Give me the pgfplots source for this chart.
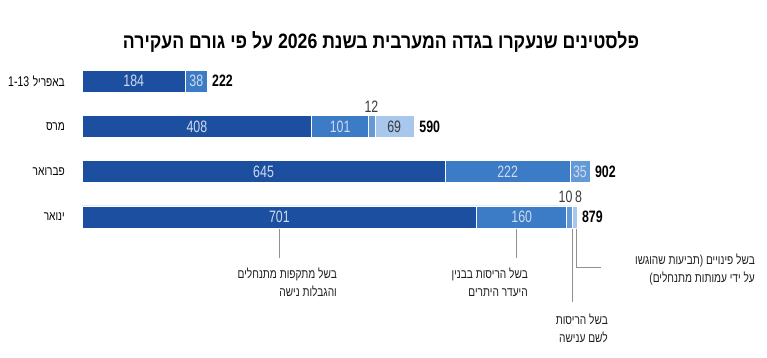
\documentclass[border=0pt]{standalone}
\usepackage{pgfplots}
\pgfplotsset{compat=1.18}
\usepackage{fontspec}
\setmainfont{Liberation Sans}
\newfontfamily\heb[Script=Hebrew,FakeStretch=0.78]{Liberation Sans}
\newfontfamily\hebt[Script=Hebrew,FakeStretch=0.85]{Liberation Sans}
\newfontfamily\numf[FakeStretch=0.75]{Liberation Sans}
\TeXXeTstate=1
\newcommand\RL[1]{\beginR #1\endR}
\definecolor{c1}{RGB}{28,79,160}
\definecolor{c2}{RGB}{60,123,197}
\definecolor{c3}{RGB}{100,153,215}
\definecolor{c4}{RGB}{168,199,236}
\definecolor{lt}{RGB}{205,218,240}
\definecolor{dg}{RGB}{60,60,60}
\definecolor{ln}{RGB}{145,145,145}
\definecolor{tx}{RGB}{30,30,30}
\tikzset{
  catl/.style={anchor=east, inner sep=0pt, font=\heb\fontsize{13}{16}\selectfont, text=black},
  vall/.style={font=\numf\fontsize{16.5}{18}\selectfont, text=lt},
  totl/.style={anchor=west, inner sep=0pt, font=\numf\bfseries\fontsize{16.5}{18}\selectfont, text=black},
  annl/.style={anchor=north east, align=right, inner sep=0pt, font=\heb\fontsize{13}{18}\selectfont, text=tx}
}
\begin{document}
\begin{tikzpicture}[x=1pt,y=1pt]
\path[use as bounding box] (0,0) rectangle (767,357);
\node[font=\hebt\bfseries\fontsize{20.8}{24}\selectfont] at (381,315) {\RL{פלסטינים שנעקרו בגדה המערבית בשנת 2026 על פי גורם העקירה}};
\begin{axis}[at={(82pt,117.35pt)}, anchor=south west, scale only axis,
  width=563pt, height=181.3pt, xmin=0, xmax=1000, ymin=-0.5, ymax=3.5,
  y dir=reverse, hide axis, clip=false, xbar stacked, bar width=22pt]
\addplot[fill=c1, draw=white, line width=0.6pt] coordinates {(184,0) (408,1) (645,2) (701,3)};
\addplot[fill=c2, draw=white, line width=0.6pt] coordinates {(38,0) (101,1) (222,2) (160,3)};
\addplot[fill=c3, draw=white, line width=0.6pt] coordinates {(0,0) (12,1) (35,2) (10,3)};
\addplot[fill=c4, draw=white, line width=0.6pt] coordinates {(0,0) (69,1) (0,2) (8,3)};
\coordinate (k0) at (axis cs:0,0);
\coordinate (k1) at (axis cs:0,1);
\coordinate (k2) at (axis cs:0,2);
\coordinate (k3) at (axis cs:0,3);
\coordinate (a1) at (axis cs:92,0);
\coordinate (a2) at (axis cs:203,0);
\coordinate (m1) at (axis cs:204,1);
\coordinate (m2) at (axis cs:458.5,1);
\coordinate (m3) at (axis cs:514,1);
\coordinate (m4) at (axis cs:554.5,1);
\coordinate (f1) at (axis cs:322.5,2);
\coordinate (f2) at (axis cs:756,2);
\coordinate (f3) at (axis cs:884.5,2);
\coordinate (j1) at (axis cs:350.5,3);
\coordinate (j2) at (axis cs:781,3);
\coordinate (j3) at (axis cs:866,3);
\coordinate (j4) at (axis cs:875,3);
\coordinate (ta) at (axis cs:222,0);
\coordinate (tm) at (axis cs:590,1);
\coordinate (tf) at (axis cs:902,2);
\coordinate (tj) at (axis cs:879,3);
\end{axis}
% category labels
\node[catl] at ([xshift=-17pt]k0) {\hbox{\numf\fontsize{14}{16}\selectfont 1-13}\hspace{3.5pt}\hbox{באפריל}};
\node[catl] at ([xshift=-17pt]k1) {מרס};
\node[catl] at ([xshift=-17pt]k2) {פברואר};
\node[catl] at ([xshift=-17pt]k3) {ינואר};
% values
\node[vall] at (a1) {184};
\node[vall] at (a2) {38};
\node[vall] at (m1) {408};
\node[vall] at (m2) {101};
\node[vall, text=dg] at ([yshift=20pt]m3) {12};
\node[vall, text=dg] at (m4) {69};
\node[vall] at (f1) {645};
\node[vall] at (f2) {222};
\node[vall] at (f3) {35};
\node[vall] at (j1) {701};
\node[vall] at (j2) {160};
\node[vall, text=dg] at ([xshift=-4pt,yshift=20pt]j3) {10};
\node[vall, text=dg] at ([xshift=4pt,yshift=20pt]j4) {8};
% totals
\node[totl] at ([xshift=5pt]ta) {222};
\node[totl] at ([xshift=5pt]tm) {590};
\node[totl] at ([xshift=5pt]tf) {902};
\node[totl] at ([xshift=5pt]tj) {879};
% leader lines
\draw[ln, line width=1pt] (279,128.5) -- (279,99);
\draw[ln, line width=1pt] (516,128.5) -- (516,99);
\draw[ln, line width=1pt] (572,128.5) -- (572,55);
\draw[ln, line width=1pt] (576,128.5) -- (576,90) -- (601,90);
% annotations
\node[annl] at (337,89) {\RL{בשל מתקפות מתנחלים}\\\RL{והגבלות נישה}};
\node[annl] at (528,89) {\RL{בשל הריסות בבנין}\\\RL{היעדר היתרים}};
\node[annl] at (608,43) {\RL{בשל הריסות}\\\RL{לשם ענישה}};
\node[annl] at (755,103) {\RL{בשל פינויים \hbox{(}תביעות שהוגשו}\\\RL{על ידי עמותות מתנחלים\hbox{)}}};
\end{tikzpicture}
\end{document}
